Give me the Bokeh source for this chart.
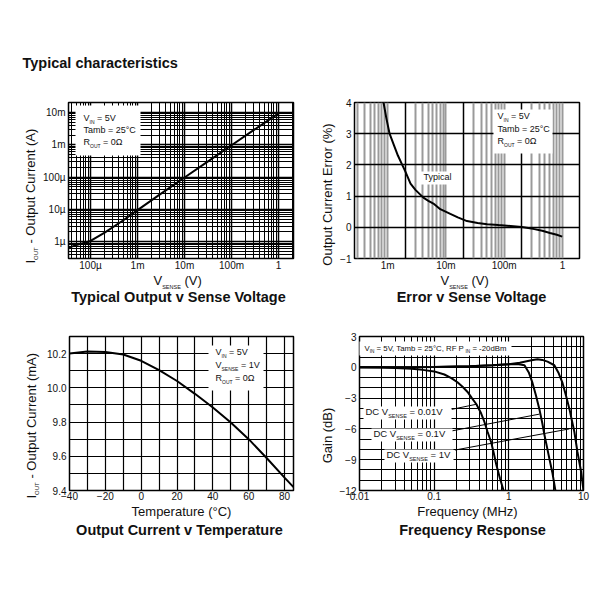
import math
from bokeh.plotting import figure
from bokeh.layouts import column, row
from bokeh.models import Label, BoxAnnotation, FixedTicker, Range1d, Grid, NumeralTickFormatter
from bokeh.embed import file_html
from bokeh.resources import INLINE

# ---------------- data ----------------
# Typical Output v Sense Voltage
vsense_a = [3.4e-5, 5e-5, 1e-4, 2e-4, 5e-4, 1e-3, 3e-3, 1e-2, 3e-2, 0.1, 0.3, 1.0]
iout_a = [6.5e-7, 7.8e-7, 1.05e-6, 1.9e-6, 4.6e-6, 9.5e-6, 2.9e-5, 9.7e-5, 2.9e-4, 9.7e-4, 2.9e-3, 9.4e-3]

# Error v Sense Voltage
vsense_b = [0.00085, 0.00095, 0.00108, 0.0013, 0.0015, 0.00178, 0.002, 0.00247, 0.003, 0.0041,
            0.005, 0.0061, 0.008, 0.0119, 0.016, 0.023, 0.035, 0.051, 0.08, 0.112, 0.2, 0.313,
            0.45, 0.61, 0.8, 0.99]
error_b = [4.0, 3.5, 3.0, 2.6, 2.3, 2.0, 1.8, 1.4, 1.2, 0.95, 0.85, 0.76, 0.58, 0.43, 0.32, 0.2,
           0.14, 0.1, 0.07, 0.05, 0.01, -0.05, -0.11, -0.18, -0.24, -0.3]

# Output Current v Temperature
temp_c = [-40, -30, -20, -10, 0, 10, 20, 30, 40, 50, 60, 70, 80, 85]
iout_c = [10.20, 10.213, 10.21, 10.195, 10.158, 10.103, 10.04, 9.965, 9.885, 9.797, 9.70, 9.59, 9.475, 9.42]

# Frequency Response
freq_001 = [0.01, 0.02, 0.03, 0.05, 0.07, 0.1, 0.137, 0.17, 0.205, 0.24, 0.28, 0.32, 0.368, 0.42,
            0.47, 0.52, 0.58, 0.63, 0.68, 0.76, 0.85]
gain_001 = [0, -0.03, -0.07, -0.15, -0.25, -0.4, -0.7, -1.05, -1.46, -1.9, -2.4, -3.0, -3.6, -4.4,
            -5.3, -6.3, -7.3, -8.4, -9.5, -10.8, -12]
freq_01 = [0.01, 0.03, 0.1, 0.3, 0.6, 1.0, 1.3, 1.62, 1.85, 2.07, 2.3, 2.57, 2.8, 3.0, 3.25, 3.49,
           3.84, 4.2]
gain_01 = [0, 0, 0.02, 0.1, 0.2, 0.3, 0.32, 0.2, -0.5, -1.5, -2.7, -4.1, -5.4, -6.6, -7.8, -8.9,
           -10.3, -12]
freq_1 = [0.01, 0.03, 0.1, 0.3, 0.6, 1.0, 1.4, 1.8, 2.1, 2.42, 2.8, 3.3, 4.07, 4.6, 5.2, 5.8, 6.5,
          7.0, 7.55, 8.3, 9.3, 10]
gain_1 = [0, 0, 0.02, 0.1, 0.2, 0.3, 0.45, 0.62, 0.72, 0.78, 0.72, 0.55, 0.2, -0.5, -1.46, -2.7,
          -4.1, -5.2, -6.3, -8.25, -10.2, -12]

# tick labels
xticks_a = [1e-4, 1e-3, 1e-2, 1e-1, 1.0]
xlabels_a = ["100µ", "1m", "10m", "100m", "1"]
yticks_a = [1e-6, 1e-5, 1e-4, 1e-3, 1e-2]
ylabels_a = ["1µ", "10µ", "100µ", "1m", "10m"]
xticks_b = [1e-3, 1e-2, 1e-1, 1.0]
xlabels_b = ["1m", "10m", "100m", "1"]
yticks_b = [-1, 0, 1, 2, 3, 4]
xticks_c = [-40, -20, 0, 20, 40, 60, 80]
yticks_c = [9.4, 9.6, 9.8, 10.0, 10.2]
xticks_d = [0.01, 0.1, 1.0, 10.0]
xlabels_d = ["0.01", "0.1", "1", "10"]
yticks_d = [-12, -9, -6, -3, 0, 3]

# leader lines (annotation) for frequency response labels
leader_x0 = [0.171, 0.171, 0.19]
leader_y0 = [-4.1, -6.2, -8.06]
leader_x1 = [0.368, 2.57, 6.47]
leader_y1 = [-3.6, -4.56, -6.0]

# ---------------- helpers ----------------
FONT = "Liberation Sans"
TXT = "#111111"
BASE_K = 0.45   # measured shift of Bokeh's "alphabetic" anchor, in em
AW = {' ': 278, '(': 333, ')': 333, '-': 333, '.': 278, ',': 278, '=': 584, '%': 889, '°': 400,
      'Ω': 768, 'µ': 556}
for ch in "0123456789":
    AW[ch] = 556
AW.update(dict(A=667, B=667, C=722, D=722, E=667, F=611, G=778, H=722, I=278, J=500, K=667, L=556,
               M=833, N=722, O=778, P=667, Q=778, R=722, S=667, T=611, U=722, V=667, W=944, X=667,
               Y=667, Z=611))
AW.update(dict(a=556, b=556, c=500, d=556, e=556, f=278, g=556, h=556, i=222, j=222, k=500, l=222,
               m=833, n=556, o=556, p=556, q=556, r=333, s=500, t=278, u=556, v=500, w=722, x=500,
               y=500, z=500))


def tw(s, size):
    return sum(AW.get(c, 556) for c in s) * size / 1000.0


class Holder:
    """A figure plus the page position of its reference point."""
    def __init__(self, fig, kind, ox, oy):
        self.fig, self.kind, self.ox, self.oy = fig, kind, ox, oy


def lab(h, px, py, text, size, bold=False, align="left", angle=0.0):
    if angle == 0.0:
        py = py - BASE_K * size
    else:
        px = px - BASE_K * size
    if h.kind == "frame":      # screen units relative to frame bottom-left
        x, y, u = px - h.ox, h.oy - py, "screen"
    else:                      # strip: data units equal page pixels
        x, y, u = px - h.ox, py - h.oy, "data"
    h.fig.add_layout(Label(x=x, y=y, x_units=u, y_units=u, text=text, text_font=FONT,
                           text_font_size=f"{size}px", text_font_style="bold" if bold else "normal",
                           text_align=align, text_baseline="alphabetic", angle=angle,
                           text_color=TXT))


def rich(h, px, py, parts, size, sub_size, drop, rotated=False):
    pos = 0.0
    for t, sub in parts:
        s = sub_size if sub else size
        stripped = t.lstrip(" ")
        pos += tw(" " * (len(t) - len(stripped)), s)
        d = drop if sub else 0
        if rotated:
            lab(h, px + d, py - pos, stripped, s, angle=math.pi / 2)
        else:
            lab(h, px + pos, py + d, stripped, s)
        pos += tw(stripped, s)


def box(h, x0, x1, y0, y1):
    h.fig.add_layout(BoxAnnotation(left=x0 - h.ox, right=x1 - h.ox, top=h.oy - y0, bottom=h.oy - y1,
                                   left_units="screen", right_units="screen", top_units="screen",
                                   bottom_units="screen", fill_color="white", fill_alpha=1.0,
                                   line_color=None))


def strip(ox, oy, w, h):
    p = figure(width=w, height=h, frame_width=w, frame_height=h, min_border=0,
               x_range=Range1d(0, w), y_range=Range1d(h, 0), x_axis_location=None,
               y_axis_location=None, output_backend="svg", toolbar_location=None)
    p.outline_line_color = None
    p.background_fill_color = "white"
    p.border_fill_color = "white"
    p.grid.visible = False
    return Holder(p, "strip", ox, oy)


def make_fig(fr, origin, size, x_range, y_range, x_type="linear", y_type="linear"):
    l, r, t, b = fr
    ox, oy = origin
    w, h = size
    p = figure(frame_width=r - l, frame_height=b - t, min_border_left=l - ox,
               min_border_right=ox + w - r, min_border_top=t - oy, min_border_bottom=oy + h - b,
               x_range=Range1d(*x_range), y_range=Range1d(*y_range), x_axis_type=x_type,
               y_axis_type=y_type, output_backend="svg", toolbar_location=None)
    p.outline_line_color = "black"
    p.outline_line_width = 1.5
    p.background_fill_color = "white"
    p.border_fill_color = "white"
    for ax in p.axis:
        ax.axis_line_color = None
        ax.major_tick_line_color = None
        ax.minor_tick_line_color = None
        ax.major_tick_out = 0
        ax.major_tick_in = 0
        ax.minor_tick_out = 0
        ax.minor_tick_in = 0
        ax.major_label_text_font = FONT
        ax.major_label_text_font_size = "10px"
        ax.major_label_standoff = 3
        ax.major_label_text_color = TXT
    p.xaxis.major_label_standoff = 1
    return Holder(p, "frame", l, b)


def log_minor(lo_exp, hi_exp):
    return [m * 10.0 ** e for e in range(lo_exp, hi_exp) for m in range(2, 10)]


F1 = (68, 293, 102, 258)
F2 = (354, 579, 102, 258)
F3 = (69, 293, 334, 488)
F4 = (355, 579, 334, 488)

# ---------------- strips for outer texts ----------------
head = strip(0, 0, 592, 96)
yl1 = strip(0, 96, 40, 175)
yl2 = strip(300, 96, 36, 175)
mid = strip(0, 271, 592, 55)
yl3 = strip(0, 326, 41, 175)
yl4 = strip(300, 326, 36, 175)
foot = strip(0, 501, 592, 62)

lab(head, 22, 69, "Typical characteristics", 14.5, bold=True)

# ---------------- plot 1 ----------------
h1 = make_fig(F1, (40, 96), (260, 175), (3.4e-5, 2.08), (3.0e-7, 2.04e-2), "log", "log")
p1 = h1.fig
p1.xaxis.ticker = FixedTicker(ticks=xticks_a, minor_ticks=log_minor(-5, 1))
p1.yaxis.ticker = FixedTicker(ticks=yticks_a, minor_ticks=log_minor(-7, -1))
p1.xaxis.major_label_overrides = dict(zip(xticks_a, xlabels_a))
p1.yaxis.major_label_overrides = dict(zip(yticks_a, ylabels_a))
for g in (p1.xgrid, p1.ygrid):
    g.grid_line_color = "black"
    g.grid_line_width = 1.5
    g.minor_grid_line_color = "black"
    g.minor_grid_line_width = 1.0
p1.line(vsense_a, iout_a, line_color="black", line_width=2)
box(h1, 75, 140, 105, 155)
rich(h1, 83, 122, [("V", 0), ("IN", 1), (" = 5V", 0)], 9, 5, 2)
rich(h1, 83, 134, [("Tamb = 25°C", 0)], 9, 5, 2)
rich(h1, 83, 146, [("R", 0), ("OUT", 1), (" = 0Ω", 0)], 9, 5, 2)
lab(mid, 178, 301, "Typical Output v Sense Voltage", 14.5, bold=True, align="center")
rich(mid, 153, 283.5, [("V", 0), ("SENSE", 1), (" (V)", 0)], 13, 5.5, 3)
rich(yl1, 36, 257, [("I", 0), ("OUT", 1), (" - Output Current (A)", 0)], 13, 6, 2.5, rotated=True)

# ---------------- plot 2 ----------------
h2 = make_fig(F2, (336, 96), (256, 175), (2.7e-4, 1.96), (-1, 4), "log", "linear")
p2 = h2.fig
minor_b = [v for v in log_minor(-4, 1) if int(round(v / 10 ** math.floor(math.log10(v) + 1e-9))) != 2]
p2.xaxis.ticker = FixedTicker(ticks=xticks_b, minor_ticks=minor_b)
p2.xaxis.major_label_overrides = dict(zip(xticks_b, xlabels_b))
p2.yaxis.ticker = FixedTicker(ticks=yticks_b)
p2.xgrid.grid_line_color = "#9a9a9a"
p2.xgrid.grid_line_width = 2
p2.xgrid.minor_grid_line_color = "#9a9a9a"
p2.xgrid.minor_grid_line_width = 2
p2.add_layout(Grid(dimension=0, ticker=FixedTicker(ticks=[2e-3, 2e-2, 2e-1]), grid_line_color="black",
                   grid_line_width=1.5))
p2.ygrid.grid_line_color = "black"
p2.ygrid.grid_line_width = 1.5
p2.line(vsense_b, error_b, line_color="black", line_width=2)
box(h2, 493, 552, 109, 153)
rich(h2, 497, 120, [("V", 0), ("IN", 1), (" = 5V", 0)], 9, 5, 2)
rich(h2, 497, 133, [("Tamb = 25°C", 0)], 9, 5, 2)
rich(h2, 497, 145, [("R", 0), ("OUT", 1), (" = 0Ω", 0)], 9, 5, 2)
box(h2, 418, 455, 171, 184)
lab(h2, 423, 180.5, "Typical", 9)
lab(mid, 471, 301, "Error v Sense Voltage", 14.5, bold=True, align="center")
rich(mid, 440, 283.5, [("V", 0), ("SENSE", 1), (" (V)", 0)], 13, 5.5, 3)
lab(yl2, 333, 188, "Output Current Error (%)", 13, align="center", angle=math.pi / 2)

# ---------------- plot 3 ----------------
h3 = make_fig(F3, (41, 326), (259, 175), (-40, 85), (9.4, 10.3))
p3 = h3.fig
p3.xaxis.ticker = FixedTicker(ticks=xticks_c, minor_ticks=[-30, -10, 10, 30, 50, 70])
p3.yaxis.ticker = FixedTicker(ticks=yticks_c, minor_ticks=[9.5, 9.7, 9.9, 10.1, 10.3])
p3.yaxis.formatter = NumeralTickFormatter(format="0.0")
for g in (p3.xgrid, p3.ygrid):
    g.grid_line_color = "black"
    g.grid_line_width = 1.2
    g.minor_grid_line_color = "black"
    g.minor_grid_line_width = 1.2
p3.line(temp_c, iout_c, line_color="black", line_width=2)
box(h3, 208, 263, 343, 388)
rich(h3, 215, 354, [("V", 0), ("IN", 1), (" = 5V", 0)], 9, 5, 2)
rich(h3, 215, 367, [("V", 0), ("SENSE", 1), (" = 1V", 0)], 9, 5, 2)
rich(h3, 215, 380, [("R", 0), ("OUT", 1), (" = 0Ω", 0)], 9, 5, 2)
lab(foot, 179, 534, "Output Current v Temperature", 14.5, bold=True, align="center")
lab(foot, 181, 515, "Temperature (°C)", 13, align="center")
rich(yl3, 36.5, 488, [("I", 0), ("OUT", 1), (" - Output Current (mA)", 0)], 13, 6, 2.5, rotated=True)

# ---------------- plot 4 ----------------
h4 = make_fig(F4, (336, 326), (256, 175), (0.01, 10), (-12, 3), "log", "linear")
p4 = h4.fig
p4.xaxis.ticker = FixedTicker(ticks=xticks_d, minor_ticks=log_minor(-2, 1))
p4.xaxis.major_label_overrides = dict(zip(xticks_d, xlabels_d))
p4.yaxis.ticker = FixedTicker(ticks=yticks_d, minor_ticks=list(range(-12, 4)))
for g in (p4.xgrid, p4.ygrid):
    g.grid_line_color = "black"
    g.grid_line_width = 1.2
    g.minor_grid_line_color = "black"
    g.minor_grid_line_width = 1.0
p4.line(freq_001, gain_001, line_color="black", line_width=2)
p4.line(freq_01, gain_01, line_color="black", line_width=2)
p4.line(freq_1, gain_1, line_color="black", line_width=2)
p4.segment(x0=leader_x0, y0=leader_y0, x1=leader_x1, y1=leader_y1, line_color="black", line_width=1)
box(h4, 353, 507, 339, 353)
rich(h4, 360, 349.5, [("V", 0), ("IN", 1), (" = 5V, Tamb = 25°C, RF P", 0), ("IN", 1), (" = -20dBm", 0)],
     7.8, 4.7, 1.5)
box(h4, 359, 447, 404, 417)
box(h4, 367, 448, 426, 439)
box(h4, 380, 449, 447, 460)
rich(h4, 361, 413.5, [("DC V", 0), ("SENSE", 1), (" = 0.01V", 0)], 9.5, 5.5, 2.5)
rich(h4, 369, 435.5, [("DC V", 0), ("SENSE", 1), (" = 0.1V", 0)], 9.5, 5.5, 2.5)
rich(h4, 382, 456.5, [("DC V", 0), ("SENSE", 1), (" = 1V", 0)], 9.5, 5.5, 2.5)
lab(foot, 472, 534, "Frequency Response", 14.5, bold=True, align="center")
lab(foot, 467, 515, "Frequency (MHz)", 13, align="center")
lab(yl4, 333, 425, "Gain (dB)", 13, align="center", angle=math.pi / 2)

layout = column(
    head.fig,
    row(yl1.fig, p1, yl2.fig, p2),
    mid.fig,
    row(yl3.fig, p3, yl4.fig, p4),
    foot.fig,
)
open("out.html", "w").write(file_html(layout, INLINE))
